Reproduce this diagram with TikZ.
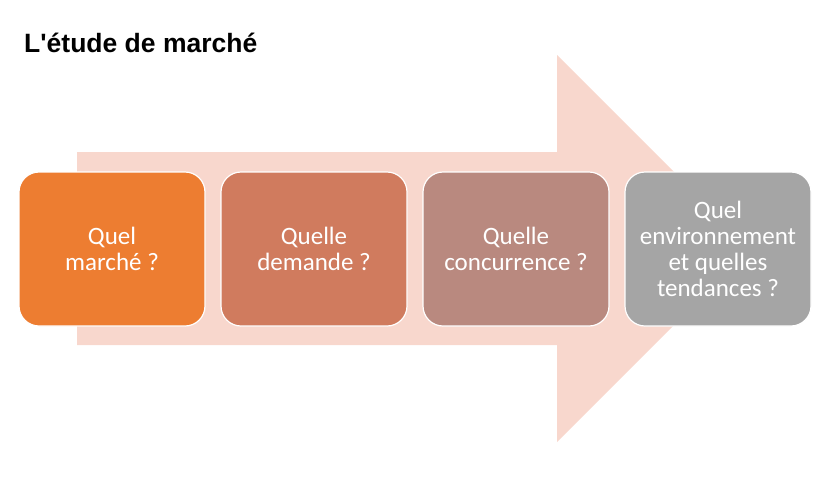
\documentclass[tikz,border=0pt]{standalone}
\usepackage{fontspec}
\setmainfont{Carlito}
\newfontfamily\titlefont{Liberation Sans}
\definecolor{fleche}{HTML}{F8D7CD}
\definecolor{orangeA}{HTML}{ED7D31}
\definecolor{orangeB}{HTML}{D07B5E}
\definecolor{roseC}{HTML}{B9897F}
\definecolor{grisD}{HTML}{A5A5A5}
\begin{document}
\begin{tikzpicture}[x=1pt,y=-1pt]
\tikzstyle{every node}+=[inner sep=0pt]
\tikzstyle{etape}=[rectangle, rounded corners=20pt, draw=white, line width=1.2pt,
  minimum width=186pt, minimum height=154pt, text=white, align=center,
  font=\fontsize{25}{26}\selectfont]
\useasboundingbox (0,0) rectangle (821,490);
% grande fleche
\fill [fleche] (77,152) -- (557,152) -- (557,55) -- (750.5,248.5) -- (557,442) -- (557,345) -- (77,345) -- cycle;
% titre
\node [anchor=base west, font=\titlefont\bfseries\fontsize{26.5}{30}\selectfont] (titre) at (24,52) {L'étude de marché};
% etapes
\node [etape, fill=orangeA] (marche) at (112,249) {Quel\\marché ?};
\node [etape, fill=orangeB] (demande) at (314,249) {Quelle\\demande ?};
\node [etape, fill=roseC] (concurrence) at (516,249) {Quelle\\concurrence ?};
\node [etape, fill=grisD] (tendances) at (718,249) {Quel\\environnement\\et quelles\\tendances ?};
\end{tikzpicture}
\end{document}
